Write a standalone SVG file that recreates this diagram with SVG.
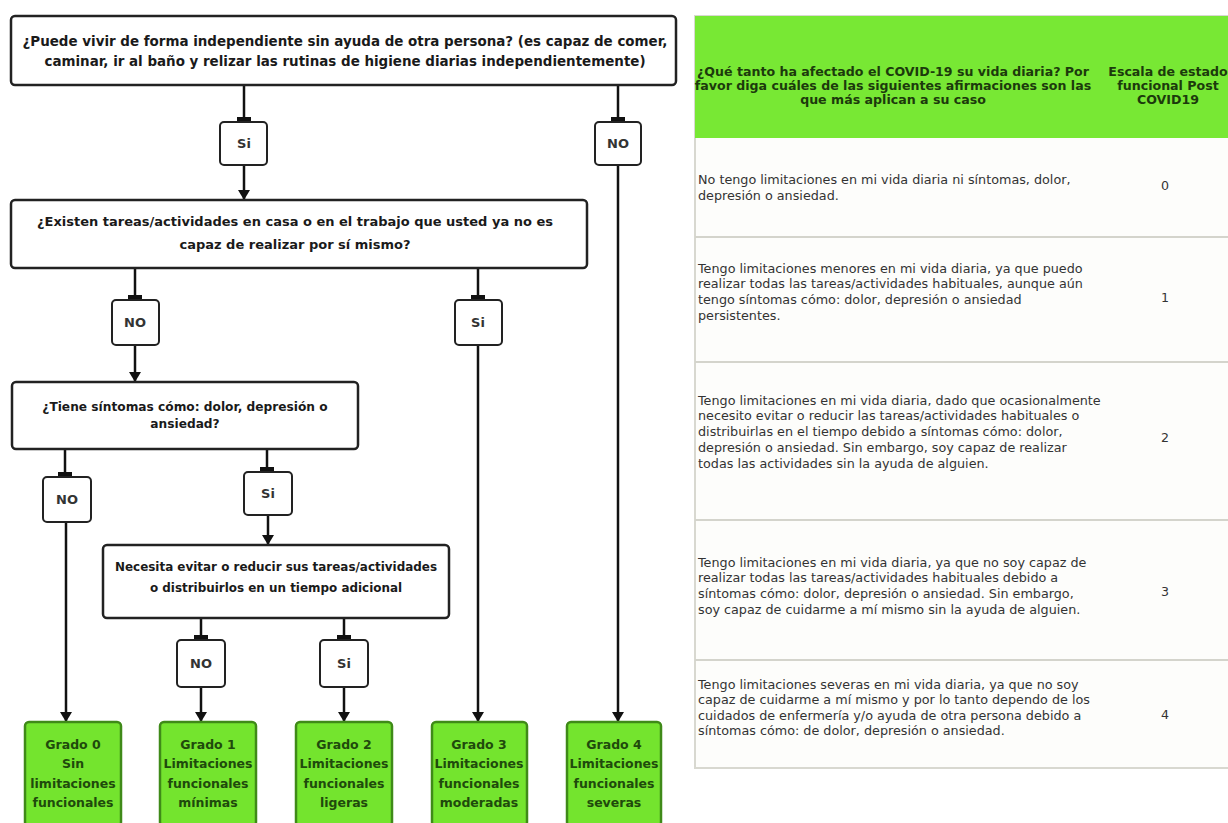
<svg xmlns="http://www.w3.org/2000/svg" width="1228" height="823" viewBox="0 0 1228 823">
<style>
.box{fill:#fff;stroke:#222;stroke-width:2.5}
.lbl{fill:#fff;stroke:#222;stroke-width:2}
.grn{fill:#74e42e;stroke:#3f8a18;stroke-width:2.5}
.t{font-family:"DejaVu Sans",Verdana,sans-serif;font-weight:bold;fill:#1a1a1a;text-anchor:middle}
.t1{font-size:13.45px}
.t2{font-size:13px}
.t3{font-size:12.2px}
.t4{font-size:11.95px}
.tl{font-family:"DejaVu Sans",Verdana,sans-serif;font-weight:bold;font-size:13px;fill:#333;text-anchor:middle}
.tg{font-family:"DejaVu Sans",Verdana,sans-serif;font-weight:bold;font-size:12.5px;fill:#1f4a0c;text-anchor:middle}
.c{fill:none;stroke:#111;stroke-width:2.5}
.th{font-family:"DejaVu Sans",Verdana,sans-serif;font-weight:bold;font-size:12.6px;fill:#1c3a0c;text-anchor:middle}
.td{font-family:"DejaVu Sans",Verdana,sans-serif;font-size:12.75px;fill:#333}
.tn{font-family:"DejaVu Sans",Verdana,sans-serif;font-size:12.6px;fill:#333;text-anchor:middle}
.rl{stroke:#d4d4cc;stroke-width:2}
</style>
<defs>
<marker id="arr" viewBox="0 0 10 12" refX="10" refY="6" markerWidth="10" markerHeight="12" markerUnits="userSpaceOnUse" orient="auto">
<path d="M0,0 L10,6 L0,12 Z" fill="#111"/>
</marker>
<marker id="tee" viewBox="0 0 5 14" refX="5" refY="7" markerWidth="5" markerHeight="14" markerUnits="userSpaceOnUse" orient="auto">
<rect x="0" y="0" width="5" height="14" fill="#111"/>
</marker>
</defs>
<rect width="1228" height="823" fill="#fff"/>

<g id="connectors">
<path class="c" d="M244,85 V122" marker-end="url(#tee)"/>
<path class="c" d="M244,165 V200" marker-end="url(#arr)"/>
<path class="c" d="M618,85 V122" marker-end="url(#tee)"/>
<path class="c" d="M618,165 V722" marker-end="url(#arr)"/>
<path class="c" d="M135,268 V300" marker-end="url(#tee)"/>
<path class="c" d="M135,345 V382" marker-end="url(#arr)"/>
<path class="c" d="M478,268 V300" marker-end="url(#tee)"/>
<path class="c" d="M478,345 V722" marker-end="url(#arr)"/>
<path class="c" d="M65,449 V477" marker-end="url(#tee)"/>
<path class="c" d="M66,522 V722" marker-end="url(#arr)"/>
<path class="c" d="M267,449 V472" marker-end="url(#tee)"/>
<path class="c" d="M268,515 V545" marker-end="url(#arr)"/>
<path class="c" d="M201,618 V640" marker-end="url(#tee)"/>
<path class="c" d="M201,687 V722" marker-end="url(#arr)"/>
<path class="c" d="M344,618 V640" marker-end="url(#tee)"/>
<path class="c" d="M344,687 V722" marker-end="url(#arr)"/>
</g>

<g id="q1">
<rect class="box" x="11" y="16" width="665" height="69" rx="4"/>
<text class="t t1" x="345" y="46">¿Puede vivir de forma independiente sin ayuda de otra persona? (es capaz de comer,</text>
<text class="t t1" x="345" y="66">caminar, ir al baño y relizar las rutinas de higiene diarias independientemente)</text>
</g>
<g id="l1si"><rect class="lbl" x="220" y="122" width="47" height="43" rx="4"/><text class="tl" x="244" y="148">Si</text></g>
<g id="l1no"><rect class="lbl" x="595" y="122" width="46" height="43" rx="4"/><text class="tl" x="618" y="148">NO</text></g>

<g id="q2">
<rect class="box" x="11" y="200" width="576" height="68" rx="4"/>
<text class="t t2" x="295" y="226">¿Existen tareas/actividades en casa o en el trabajo que usted ya no es</text>
<text class="t t2" x="295" y="249">capaz de realizar por sí mismo?</text>
</g>
<g id="l2no"><rect class="lbl" x="112" y="300" width="47" height="45" rx="4"/><text class="tl" x="135" y="327">NO</text></g>
<g id="l2si"><rect class="lbl" x="455" y="300" width="47" height="45" rx="4"/><text class="tl" x="478" y="327">Si</text></g>

<g id="q3">
<rect class="box" x="12" y="382" width="346" height="67" rx="4"/>
<text class="t t3" x="185" y="411">¿Tiene síntomas cómo: dolor, depresión o</text>
<text class="t t3" x="185" y="428">ansiedad?</text>
</g>
<g id="l3no"><rect class="lbl" x="43" y="477" width="48" height="45" rx="4"/><text class="tl" x="67" y="504">NO</text></g>
<g id="l3si"><rect class="lbl" x="244" y="472" width="48" height="43" rx="4"/><text class="tl" x="268" y="498">Si</text></g>

<g id="q4">
<rect class="box" x="103" y="545" width="346" height="73" rx="4"/>
<text class="t t4" x="276" y="571">Necesita evitar o reducir sus tareas/actividades</text>
<text class="t t4" x="276" y="592">o distribuirlos en un tiempo adicional</text>
</g>
<g id="l4no"><rect class="lbl" x="177" y="640" width="48" height="47" rx="4"/><text class="tl" x="201" y="668">NO</text></g>
<g id="l4si"><rect class="lbl" x="320" y="640" width="48" height="47" rx="4"/><text class="tl" x="344" y="668">Si</text></g>

<g id="g0"><rect class="grn" x="25" y="722" width="96" height="104" rx="4"/>
<text class="tg" x="73" y="749">Grado 0</text><text class="tg" x="73" y="768">Sin</text><text class="tg" x="73" y="788">limitaciones</text><text class="tg" x="73" y="807">funcionales</text></g>
<g id="g1"><rect class="grn" x="160" y="722" width="96" height="104" rx="4"/>
<text class="tg" x="208" y="749">Grado 1</text><text class="tg" x="208" y="768">Limitaciones</text><text class="tg" x="208" y="788">funcionales</text><text class="tg" x="208" y="807">mínimas</text></g>
<g id="g2"><rect class="grn" x="296" y="722" width="96" height="104" rx="4"/>
<text class="tg" x="344" y="749">Grado 2</text><text class="tg" x="344" y="768">Limitaciones</text><text class="tg" x="344" y="788">funcionales</text><text class="tg" x="344" y="807">ligeras</text></g>
<g id="g3"><rect class="grn" x="432" y="722" width="95" height="104" rx="4"/>
<text class="tg" x="479" y="749">Grado 3</text><text class="tg" x="479" y="768">Limitaciones</text><text class="tg" x="479" y="788">funcionales</text><text class="tg" x="479" y="807">moderadas</text></g>
<g id="g4"><rect class="grn" x="567" y="722" width="94" height="104" rx="4"/>
<text class="tg" x="614" y="749">Grado 4</text><text class="tg" x="614" y="768">Limitaciones</text><text class="tg" x="614" y="788">funcionales</text><text class="tg" x="614" y="807">severas</text></g>

<g id="table">
<rect x="695" y="16" width="540" height="752" fill="#fdfdfb" stroke="#d8d8d0" stroke-width="2"/>
<rect x="695" y="16" width="540" height="122" fill="#78e834"/>
<text class="th" x="893" y="76">¿Qué tanto ha afectado el COVID-19 su vida diaria? Por</text>
<text class="th" x="893" y="90">favor diga cuáles de las siguientes afirmaciones son las</text>
<text class="th" x="893" y="104">que más aplican a su caso</text>
<text class="th" x="1168" y="76">Escala de estado</text>
<text class="th" x="1168" y="90">funcional Post</text>
<text class="th" x="1168" y="104">COVID19</text>
<line class="rl" x1="695" y1="237" x2="1228" y2="237"/>
<line class="rl" x1="695" y1="362" x2="1228" y2="362"/>
<line class="rl" x1="695" y1="520" x2="1228" y2="520"/>
<line class="rl" x1="695" y1="660" x2="1228" y2="660"/>
<text class="td" x="698" y="184">No tengo limitaciones en mi vida diaria ni síntomas, dolor,</text>
<text class="td" x="698" y="200">depresión o ansiedad.</text>
<text class="tn" x="1165" y="190">0</text>
<text class="td" x="698" y="273">Tengo limitaciones menores en mi vida diaria, ya que puedo</text>
<text class="td" x="698" y="288">realizar todas las tareas/actividades habituales, aunque aún</text>
<text class="td" x="698" y="304">tengo síntomas cómo: dolor, depresión o ansiedad</text>
<text class="td" x="698" y="320">persistentes.</text>
<text class="tn" x="1165" y="302">1</text>
<text class="td" x="698" y="405">Tengo limitaciones en mi vida diaria, dado que ocasionalmente</text>
<text class="td" x="698" y="420">necesito evitar o reducir las tareas/actividades habituales o</text>
<text class="td" x="698" y="436">distribuirlas en el tiempo debido a síntomas cómo: dolor,</text>
<text class="td" x="698" y="452">depresión o ansiedad. Sin embargo, soy capaz de realizar</text>
<text class="td" x="698" y="468">todas las actividades sin la ayuda de alguien.</text>
<text class="tn" x="1165" y="442">2</text>
<text class="td" x="698" y="567">Tengo limitaciones en mi vida diaria, ya que no soy capaz de</text>
<text class="td" x="698" y="582">realizar todas las tareas/actividades habituales debido a</text>
<text class="td" x="698" y="598">síntomas cómo: dolor, depresión o ansiedad. Sin embargo,</text>
<text class="td" x="698" y="614">soy capaz de cuidarme a mí mismo sin la ayuda de alguien.</text>
<text class="tn" x="1165" y="596">3</text>
<text class="td" x="698" y="689">Tengo limitaciones severas en mi vida diaria, ya que no soy</text>
<text class="td" x="698" y="704">capaz de cuidarme a mí mismo y por lo tanto dependo de los</text>
<text class="td" x="698" y="720">cuidados de enfermería y/o ayuda de otra persona debido a</text>
<text class="td" x="698" y="735">síntomas cómo: de dolor, depresión o ansiedad.</text>
<text class="tn" x="1165" y="719">4</text>
</g>
</svg>
